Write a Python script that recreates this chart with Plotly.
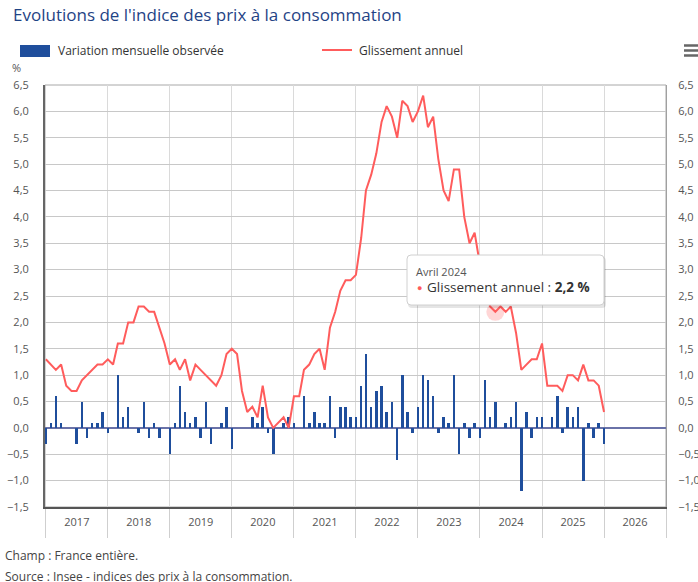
import pandas as pd
import plotly.graph_objects as go

# ---------------- data ----------------
start_month = "2017-01-01"

glissement_annuel = [
    1.3, 1.2, 1.1, 1.2, 0.8, 0.7, 0.7, 0.9, 1.0, 1.1, 1.2, 1.2,   # 2017
    1.3, 1.2, 1.6, 1.6, 2.0, 2.0, 2.3, 2.3, 2.2, 2.2, 1.9, 1.6,   # 2018
    1.2, 1.3, 1.1, 1.3, 0.9, 1.2, 1.1, 1.0, 0.9, 0.8, 1.0, 1.4,   # 2019
    1.5, 1.4, 0.7, 0.3, 0.4, 0.2, 0.8, 0.2, 0.0, 0.1, 0.2, 0.0,   # 2020
    0.6, 0.6, 1.1, 1.2, 1.4, 1.5, 1.1, 1.9, 2.2, 2.6, 2.8, 2.8,   # 2021
    2.9, 3.6, 4.5, 4.8, 5.2, 5.8, 6.1, 5.9, 5.5, 6.2, 6.1, 5.8,   # 2022
    6.0, 6.3, 5.7, 5.9, 5.1, 4.5, 4.3, 4.9, 4.9, 4.0, 3.5, 3.7,   # 2023
    3.1, 3.0, 2.3, 2.2, 2.3, 2.2, 2.3, 1.8, 1.1, 1.2, 1.3, 1.3,   # 2024
    1.6, 0.8, 0.8, 0.8, 0.7, 1.0, 1.0, 0.9, 1.2, 0.9, 0.9, 0.8,   # 2025
    0.3,                                                          # 2026
]

variation_mensuelle = [
    -0.3, 0.1, 0.6, 0.1, 0.0, 0.0, -0.3, 0.5, -0.2, 0.1, 0.1, 0.3,   # 2017
    -0.1, 0.0, 1.0, 0.2, 0.4, 0.0, -0.1, 0.5, -0.2, 0.1, -0.2, 0.0,  # 2018
    -0.5, 0.1, 0.8, 0.3, 0.1, 0.2, -0.2, 0.5, -0.3, 0.0, 0.1, 0.4,   # 2019
    -0.4, 0.0, 0.0, 0.0, 0.2, 0.1, 0.4, -0.1, -0.5, 0.0, 0.1, 0.2,   # 2020
    0.1, 0.0, 0.6, 0.1, 0.3, 0.1, 0.1, 0.6, -0.2, 0.4, 0.4, 0.2,     # 2021
    0.2, 0.8, 1.4, 0.4, 0.7, 0.8, 0.3, 0.5, -0.6, 1.0, 0.3, -0.1,    # 2022
    0.4, 1.0, 0.9, 0.6, -0.1, 0.2, 0.1, 1.0, -0.5, 0.1, -0.2, 0.1,   # 2023
    -0.2, 0.9, 0.2, 0.5, 0.0, 0.1, 0.2, 0.5, -1.2, 0.3, -0.2, 0.2,   # 2024
    0.2, 0.0, 0.2, 0.6, -0.1, 0.4, 0.2, 0.4, -1.0, 0.1, -0.2, 0.1,   # 2025
    -0.3,                                                            # 2026
]

mois_fr = ["Janvier", "Février", "Mars", "Avril", "Mai", "Juin", "Juillet",
           "Août", "Septembre", "Octobre", "Novembre", "Décembre"]

y_ticks = [-1.5, -1.0, -0.5, 0.0, 0.5, 1.0, 1.5, 2.0, 2.5, 3.0, 3.5, 4.0, 4.5, 5.0, 5.5, 6.0, 6.5]

name_bar = "Variation mensuelle observée"
name_line = "Glissement annuel"
title_text = "Evolutions de l'indice des prix à la consommation"
footer_1 = "Champ : France entière."
footer_2 = "Source : Insee - indices des prix à la consommation."

hover_month = "2024-04-01"

dates = pd.date_range(start_month, periods=len(glissement_annuel), freq="MS")

# ---------------- styling ----------------
W, H = 698, 582
L, R, T, B = 45, 666, 85, 507
PW, PH = R - L, B - T
FONT = "Open Sans"
BLUE = "#1f4e9c"
RED = "#ff5c5c"


def px(x):
    return (x - L) / PW


def py(y):
    return (B - y) / PH


fig = go.Figure()

fig.add_trace(go.Bar(
    x=dates, y=variation_mensuelle, name=name_bar,
    marker=dict(color=BLUE, line=dict(width=0)),
    width=15 * 24 * 3600 * 1000, showlegend=False,
))
fig.add_trace(go.Scatter(
    x=dates, y=glissement_annuel, name=name_line, mode="lines",
    line=dict(color=RED, width=2), yaxis="y2", showlegend=False,
))

# hovered point halo
hi = list(dates).index(pd.Timestamp(hover_month))
fig.add_trace(go.Scatter(
    x=[dates[hi]], y=[glissement_annuel[hi]], mode="markers", yaxis="y2",
    marker=dict(size=18, color="rgba(255,92,92,0.25)", line=dict(width=0)),
    showlegend=False, hoverinfo="skip",
))

axis_common = dict(
    range=[-1.5, 6.5], tickvals=y_ticks, tickformat=".1f",
    tickfont=dict(family=FONT, size=11, color="#555"),
    fixedrange=True, automargin=False,
)

fig.update_layout(
    width=W, height=H,
    margin=dict(l=L, r=W - R, t=T, b=H - B, autoexpand=False),
    paper_bgcolor="white", plot_bgcolor="white",
    separators=", ",
    font=dict(family=FONT, color="#333"),
    showlegend=False,
    bargap=0,
    xaxis=dict(
        type="date", range=["2016-12-27", "2027-01-01"],
        tick0="2017-01-01", dtick="M12", tickformat="%Y",
        ticklabelmode="period",
        ticks="outside", ticklen=29, tickcolor="#cfcfcf", tickwidth=1,
        ticklabelstandoff=-25,
        showgrid=True, gridcolor="#dadada", gridwidth=1,
        showline=True, linecolor="#555", linewidth=1.5,
        tickfont=dict(family=FONT, size=11, color="#555"),
        automargin=False, fixedrange=True,
    ),
    yaxis=dict(
        **axis_common,
        showgrid=True, gridcolor="#c8c8c8", gridwidth=1,
        zeroline=True, zerolinecolor="#6a72a8", zerolinewidth=1.5,
        showline=True, linecolor="#666", linewidth=2,
        ticklabelstandoff=12,
    ),
    yaxis2=dict(
        **axis_common,
        overlaying="y", side="right",
        showgrid=False, zeroline=False,
        showline=True, linecolor="#a0a0a0", linewidth=1,
        ticklabelstandoff=9,
    ),
)

shapes = []
# plot frame (top / right)
shapes.append(dict(type="rect", xref="paper", yref="paper", x0=0, x1=1, y0=0, y1=1,
                   line=dict(color="#a8a8a8", width=1), layer="below"))
# legend symbols
shapes.append(dict(type="rect", xref="paper", yref="paper",
                   x0=px(20), x1=px(50), y0=py(57), y1=py(45),
                   fillcolor=BLUE, line=dict(width=0)))
shapes.append(dict(type="line", xref="paper", yref="paper",
                   x0=px(322), x1=px(352), y0=py(50), y1=py(50),
                   line=dict(color=RED, width=2)))
# menu icon
for yy in (45.5, 50.5, 55.5):
    shapes.append(dict(type="line", xref="paper", yref="paper",
                       x0=px(684), x1=px(700), y0=py(yy), y1=py(yy),
                       line=dict(color="#666", width=2.5)))


def rounded(x0, y0, x1, y1, r):
    rx, ry = r / PW, r / PH
    X0, X1 = px(x0), px(x1)
    Y0, Y1 = py(y0), py(y1)  # Y0 top, Y1 bottom
    return (f"M{X0 + rx},{Y0} L{X1 - rx},{Y0} Q{X1},{Y0} {X1},{Y0 - ry} "
            f"L{X1},{Y1 + ry} Q{X1},{Y1} {X1 - rx},{Y1} "
            f"L{X0 + rx},{Y1} Q{X0},{Y1} {X0},{Y1 + ry} "
            f"L{X0},{Y0 - ry} Q{X0},{Y0} {X0 + rx},{Y0} Z")


# tooltip shadow + box
shapes.append(dict(type="path", xref="paper", yref="paper",
                   path=rounded(408, 257, 606, 308, 4),
                   fillcolor="rgba(0,0,0,0.10)", line=dict(width=0), layer="above"))
shapes.append(dict(type="path", xref="paper", yref="paper",
                   path=rounded(407, 255, 604, 305, 4),
                   fillcolor="white", line=dict(color="#d0d0d0", width=1), layer="above"))
fig.update_layout(shapes=shapes)

ann = []
ann.append(dict(text=title_text, xref="paper", yref="paper", x=px(11), y=py(14),
                xanchor="left", yanchor="middle", showarrow=False,
                font=dict(family=FONT, size=17, color="#1f4385")))
ann.append(dict(text=name_bar, xref="paper", yref="paper", x=px(56), y=py(51),
                xanchor="left", yanchor="middle", showarrow=False,
                font=dict(family=FONT, size=12, color="#333")))
ann.append(dict(text=name_line, xref="paper", yref="paper", x=px(357), y=py(51),
                xanchor="left", yanchor="middle", showarrow=False,
                font=dict(family=FONT, size=12, color="#333")))
ann.append(dict(text="%", xref="paper", yref="paper", x=px(10), y=py(68),
                xanchor="left", yanchor="middle", showarrow=False,
                font=dict(family=FONT, size=11, color="#555")))
ann.append(dict(text=footer_1, xref="paper", yref="paper", x=px(3), y=py(555),
                xanchor="left", yanchor="middle", showarrow=False,
                font=dict(family=FONT, size=12, color="#444")))
ann.append(dict(text=footer_2, xref="paper", yref="paper", x=px(3), y=py(576),
                xanchor="left", yanchor="middle", showarrow=False,
                font=dict(family=FONT, size=12, color="#444")))
# tooltip texts
d = dates[hi]
month_label = f"{mois_fr[d.month - 1]} {d.year}"
val_label = f"{glissement_annuel[hi]:.1f}".replace(".", ",") + " %"
ann.append(dict(text=month_label, xref="paper", yref="paper", x=px(414), y=py(271),
                xanchor="left", yanchor="middle", showarrow=False,
                font=dict(family=FONT, size=11, color="#555")))
ann.append(dict(text="●", xref="paper", yref="paper", x=px(419), y=py(287),
                xanchor="center", yanchor="middle", showarrow=False,
                font=dict(family=FONT, size=9, color=RED)))
ann.append(dict(text=f"{name_line} : <b>{val_label}</b>", xref="paper", yref="paper",
                x=px(425), y=py(287), xanchor="left", yanchor="middle", showarrow=False,
                font=dict(family=FONT, size=13.5, color="#333")))
fig.update_layout(annotations=ann)

fig.write_html(
    "out.html",
    config={"displayModeBar": False, "staticPlot": False},
    post_script="document.body.style.margin='0';document.body.style.overflow='hidden';",
)
